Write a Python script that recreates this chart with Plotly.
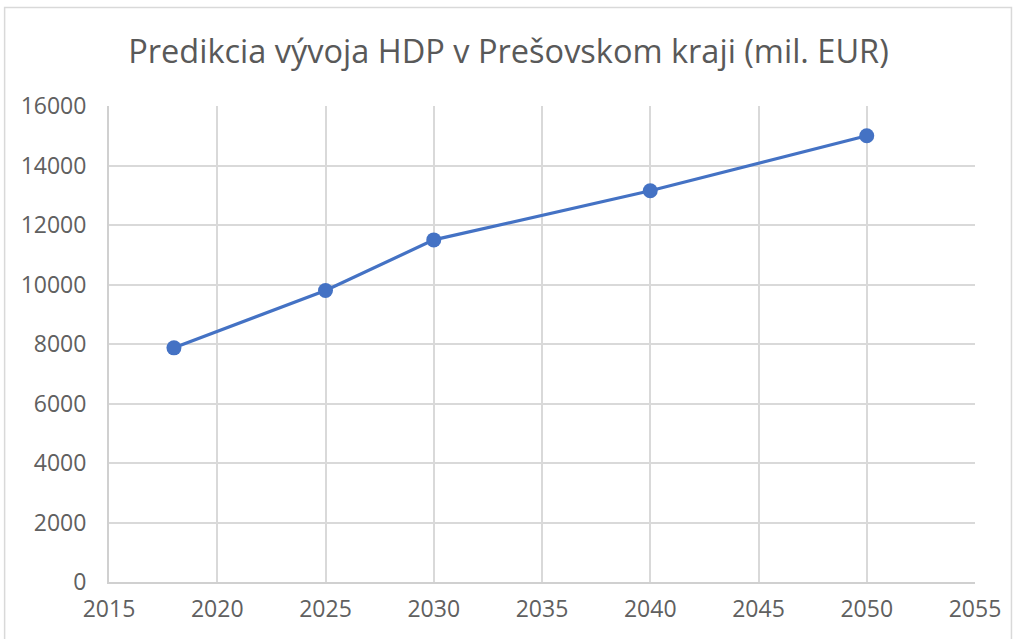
import plotly.graph_objects as go

years = [2018, 2025, 2030, 2040, 2050]
hdp = [7870, 9800, 11500, 13150, 15000]
title_text = "Predikcia vývoja HDP v Prešovskom kraji (mil. EUR)"

W, H = 1017, 639
L, R, T, B = 108.5, 41.5, 105.5, 57
pw, ph = W - L - R, H - T - B

fig = go.Figure()
fig.add_trace(go.Scatter(
    x=years, y=hdp, mode="lines+markers",
    line=dict(color="#4472C4", width=3.2),
    marker=dict(color="#4472C4", size=15),
    showlegend=False, cliponaxis=False,
))

def px2paper_x(px):
    return (px - L) / pw

def px2paper_y(py):
    return (H - B - py) / ph

fig.add_shape(type="rect", xref="paper", yref="paper",
              x0=px2paper_x(4), x1=px2paper_x(1012),
              y0=px2paper_y(645), y1=px2paper_y(7),
              line=dict(color="#d9d9d9", width=1.5), layer="below")

fig.update_layout(
    width=W, height=H,
    margin=dict(l=L, r=R, t=T, b=B),
    paper_bgcolor="white", plot_bgcolor="white",
    title=dict(text=title_text, x=0.5, xanchor="center", y=1 - 52 / H, yanchor="middle",
               font=dict(family="Open Sans", size=32.5, color="#595959")),
    font=dict(family="Open Sans", color="#595959"),
)
fig.update_xaxes(range=[2015, 2055], dtick=5, tick0=2015,
                 showgrid=True, gridcolor="#d9d9d9", gridwidth=1.5,
                 showline=True, linecolor="#d0d0d0", linewidth=2,
                 zeroline=False, ticks="", ticklabelstandoff=5,
                 tickfont=dict(family="Open Sans", size=23, color="#606060"))
fig.update_yaxes(range=[0, 16000], dtick=2000, tickformat="d",
                 showgrid=True, gridcolor="#d9d9d9", gridwidth=1.5,
                 showline=True, linecolor="#d0d0d0", linewidth=2,
                 zeroline=False, ticks="", ticklabelstandoff=16,
                 tickfont=dict(family="Open Sans", size=23, color="#606060"))

fig.write_html("out.html", config={"displayModeBar": False},
               post_script="document.body.style.margin='0';document.body.style.overflow='hidden';")
